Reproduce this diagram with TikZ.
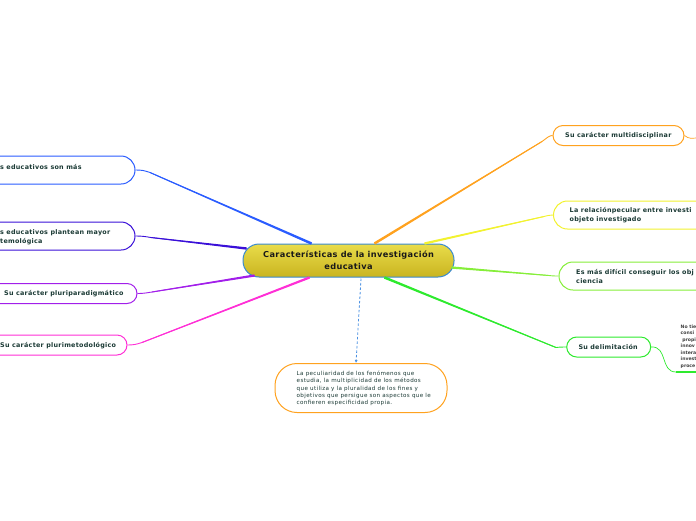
\documentclass[tikz,border=0pt]{standalone}
\usepackage{fontspec}
\setmainfont{DejaVu Sans}
\newfontfamily\lblfont[LetterSpace=4]{DejaVu Sans}
\newfontfamily\cenfont[LetterSpace=4.5]{DejaVu Sans}
\newfontfamily\subfont[LetterSpace=6.5]{DejaVu Sans}
\usetikzlibrary{calc,arrows.meta}
\definecolor{txt}{HTML}{1B3A35}
\definecolor{cblue}{HTML}{2A5CFF}
\definecolor{cindigo}{HTML}{3A10D8}
\definecolor{cviolet}{HTML}{A21FEA}
\definecolor{cmagenta}{HTML}{FF2FD6}
\definecolor{corange}{HTML}{FFA21F}
\definecolor{cyellow}{HTML}{F2F230}
\definecolor{clgreen}{HTML}{86EE3A}
\definecolor{cgreen}{HTML}{2EEA2E}
\definecolor{cdash}{HTML}{4A90E2}
\definecolor{cborder}{HTML}{3A8AD0}
\definecolor{ctop}{HTML}{E9DC4A}
\definecolor{cbot}{HTML}{C9B420}
\tikzset{
  box/.style={draw=#1, line width=1pt, fill=white, inner sep=0pt},
  lbl/.style={font=\lblfont\fontsize{6.4}{9}\selectfont\bfseries, text=txt, align=left, inner sep=0pt, anchor=west},
  conn/.style={draw=#1, line width=0.9pt},
}
% tapered overlay: color, thin end, thick end, thin half-width, thick half-width
\newcommand\taper[5]{\fill[#1] ($(#2)!#4!90:(#3)$) -- ($(#2)!#4!-90:(#3)$) -- ($(#3)!#5!90:(#2)$) -- ($(#3)!#5!-90:(#2)$) -- cycle;}
\begin{document}
\begin{tikzpicture}[x=1pt,y=-1pt]
\useasboundingbox (0,0) rectangle (696,520);
\clip (0,0) rectangle (696,520);

% central node
\node[draw=cborder, line width=1pt, rounded corners=16pt, top color=ctop, bottom color=cbot,
      minimum width=211pt, minimum height=33pt, inner sep=0pt, align=center,
      font=\cenfont\fontsize{8.2}{11.6}\selectfont\bfseries, text=black!90]
  (c) at (348.5,260.5) {Características de la investigación\\educativa};

% left boxes
\node[box=cblue, rounded corners=14pt, minimum width=235pt, minimum height=28pt] (b1) at (17.5,170) {};
\node[lbl] (t1) at (0,167) {s educativos son más};
\node[box=cindigo, rounded corners=14pt, minimum width=235pt, minimum height=28pt] (b2) at (17.5,236) {};
\node[lbl] (t2) at (0,237) {s educativos plantean mayor\\temológica};
\node[box=cviolet, rounded corners=10pt, minimum width=237pt, minimum height=20pt] (b3) at (18.5,293.5) {};
\node[lbl] (t3) at (4,294) {Su carácter pluriparadigmático};
\node[box=cmagenta, rounded corners=10pt, minimum width=227pt, minimum height=20pt] (b4) at (13.5,345) {};
\node[lbl] (t4) at (0,345.5) {Su carácter plurimetodológico};

% right boxes
\node[box=corange, rounded corners=10pt, minimum width=131pt, minimum height=20pt] (r1) at (618.5,135.5) {};
\node[lbl] (s1) at (565,136) {Su carácter multidisciplinar};
\node[box=cyellow, rounded corners=14pt, minimum width=240pt, minimum height=28pt] (r2) at (673.5,215) {};
\node[lbl] (s2) at (569.5,215.2) {La relaciónpecular entre investi\\objeto investigado};
\node[box=clgreen, rounded corners=14pt, minimum width=240pt, minimum height=28pt] (r3) at (679,276) {};
\node[lbl] (s3) at (576,276) {Es más difícil conseguir los obj\\ciencia};
\node[box=cgreen, rounded corners=10pt, minimum width=84pt, minimum height=20pt] (r4) at (608.7,347) {};
\node[lbl] (s4) at (578.3,347.3) {Su delimitación};

% tiny text under green node
\node[anchor=north west, inner sep=0pt, align=left, text=black!75,
      font=\fontsize{4.6}{6.5}\selectfont\bfseries] (nt) at (680.5,324.5)
  {No tie\\consi\\\ propi\\innov\\intera\\invest\\proce};
\coordinate (ntl) at (676,372);
\coordinate (ntr) at (700,372);

% bottom node
\node[box=corange, rounded corners=22pt, minimum width=172pt, minimum height=49pt] (bn) at (361,388) {};
\node[anchor=west, inner sep=0pt, align=left, text=txt,
      font=\subfont\fontsize{5.6}{7.3}\selectfont] (bt) at (296.5,388.6)
  {La peculiaridad de los fenómenos que\\estudia, la multiplicidad de los métodos\\que utiliza y la pluralidad de los fines y\\objetivos que persigue son aspectos que le\\confieren especificidad propia.};

% junction and end coordinates
\coordinate (j1) at (150,172.5);  \coordinate (e1) at ($(c.north)+(-37,0)$);
\coordinate (j2) at (151,237.5);  \coordinate (e2) at ($(c.west)+(4,-12)$);
\coordinate (j3) at (152,292);    \coordinate (e3) at ($(c.west)+(12,15)$);
\coordinate (j4) at (142,342.5);  \coordinate (e4) at ($(c.south)+(-39,0)$);
\coordinate (j5) at (542,141.5);  \coordinate (e5) at ($(c.north)+(26,0)$);
\coordinate (j6) at (544,216.5);  \coordinate (e6) at ($(c.north)+(76,0)$);
\coordinate (j7) at (549,275.5);  \coordinate (e7) at ($(c.east)+(-3,7)$);
\coordinate (j8) at (556,347.5);  \coordinate (e8) at ($(c.south)+(36,0)$);

% left connectors
\draw[conn=cblue] (b1.east) .. controls (142,170) and (144,170.5) .. (j1) -- (e1);
\draw[conn=cindigo] (b2.east) .. controls (142,236) and (145,236.5) .. (j2) -- (e2);
\draw[conn=cviolet] (b3.east) .. controls (143,293.5) and (146,293) .. (j3) -- (e3);
\draw[conn=cmagenta] (b4.east) .. controls (133,345) and (136,344.5) .. (j4) -- (e4);

% right connectors
\draw[conn=corange] (e5) -- (j5) .. controls (547,138) and (549,135.5) .. (r1.west);
\draw[conn=cyellow] (e6) -- (j6) .. controls (548,215.5) and (550,215) .. (r2.west);
\draw[conn=clgreen] (e7) -- (j7) .. controls (553,276) and (556,276) .. (r3.west);
\draw[conn=cgreen] (e8) -- (j8) .. controls (560,347) and (563,347) .. (r4.west);

% tapering toward the centre
\taper{cblue}{j1}{e1}{0.45pt}{1.25pt}
\taper{cindigo}{j2}{e2}{0.45pt}{1.2pt}
\taper{cviolet}{j3}{e3}{0.45pt}{1.15pt}
\taper{cmagenta}{j4}{e4}{0.45pt}{1.15pt}
\taper{corange}{j5}{e5}{0.45pt}{1.25pt}
\taper{cyellow}{j6}{e6}{0.45pt}{1.15pt}
\taper{clgreen}{j7}{e7}{0.45pt}{1.15pt}
\taper{cgreen}{j8}{e8}{0.45pt}{1.25pt}

% sub connectors
\draw[draw=corange, line width=0.7pt] (r1.east) .. controls (689,139) and (692,139) .. (700,137);
\draw[draw=cgreen, line width=0.7pt] (r4.east) .. controls (668,346) and (660,372) .. (ntl);
\draw[draw=cgreen, line width=1.4pt] (ntl) -- (ntr);

% dashed connector
\draw[draw=cdash, line width=0.8pt, dash pattern=on 2.5pt off 2pt, -{Latex[length=3pt,width=3pt]}]
  ($(c.south)+(12.5,1)$) -- ($(bn.north)+(-5,0)$);
\end{tikzpicture}
\end{document}
